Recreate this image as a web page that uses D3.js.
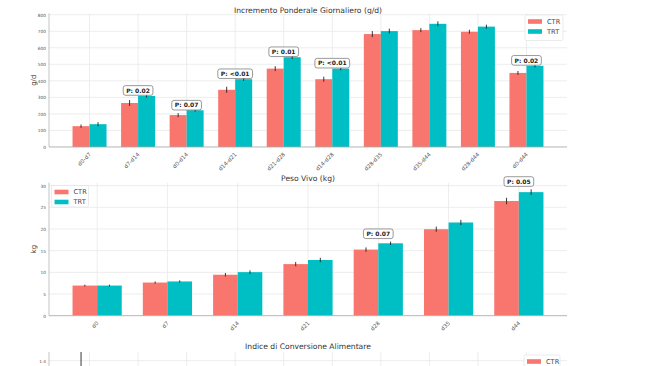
<!DOCTYPE html>
<html>
<head>
<meta charset="utf-8">
<script src="https://cdn.jsdelivr.net/npm/d3@7"></script>
<style>
  html, body { margin: 0; padding: 0; background: #fff; }
  svg { display: block; font-family: "DejaVu Sans", sans-serif; }
</style>
</head>
<body>
<svg id="chart" width="650" height="366"></svg>
<script>
// ---------- DATA ----------
const gainCategories = ["d0-d7","d7-d14","d0-d14","d14-d21","d21-d28","d14-d28","d28-d35","d35-d44","d28-d44","d0-d44"];
const gainCTR    = [126, 266, 193, 346, 474, 410, 683, 707, 697, 448];
const gainTRT    = [138, 309, 222, 410, 543, 474, 701, 745, 728, 491];
const gainCTRerr = [10, 18, 12, 18, 15, 15, 18, 12, 12, 12];
const gainTRTerr = [12, 10, 8, 10, 10, 10, 15, 15, 12, 10];
const gainP      = [null, "P: 0.02", "P: 0.07", "P: <0.01", "P: 0.01", "P: <0.01", null, null, null, "P: 0.02"];
const gainTicks  = [0, 100, 200, 300, 400, 500, 600, 700, 800];

const weightCategories = ["d0","d7","d14","d21","d28","d35","d44"];
const weightCTR    = [6.95, 7.65, 9.45, 11.9, 15.25, 19.95, 26.45];
const weightTRT    = [6.95, 7.9, 10.05, 12.85, 16.7, 21.5, 28.5];
const weightCTRerr = [0.2, 0.25, 0.4, 0.5, 0.5, 0.6, 0.75];
const weightTRTerr = [0.2, 0.25, 0.4, 0.5, 0.4, 0.6, 0.65];
const weightP      = [null, null, null, null, "P: 0.07", null, "P: 0.05"];
const weightTicks  = [0, 5, 10, 15, 20, 25, 30];

const fcrCategories = gainCategories;
const fcrCTR    = [1.10, 1.20, 1.15, 1.25, 1.28, 1.26, 1.22, 1.24, 1.23, 1.20];
const fcrTRT    = [1.08, 1.15, 1.12, 1.22, 1.25, 1.24, 1.20, 1.22, 1.21, 1.18];
const fcrCTRerr = [0.40, 0.03, 0.03, 0.03, 0.03, 0.03, 0.03, 0.03, 0.03, 0.03];
const fcrTRTerr = [0.03, 0.03, 0.03, 0.03, 0.03, 0.03, 0.03, 0.03, 0.03, 0.03];
const fcrTicks  = [0, 0.2, 0.4, 0.6, 0.8, 1.0, 1.2, 1.4];

const seriesNames = ["CTR", "TRT"];
const colors = {CTR: "#F8766D", TRT: "#00BFC4"};

// ---------- DRAW ----------
const VIEW_H = 366;
const svg = d3.select("#chart");
const FONT = "DejaVu Sans, sans-serif";

function drawChart(cfg) {
  const n = cfg.cats.length;
  const w = 0.35;
  const lo = -w, hi = n - 1 + w, m = 0.05 * (hi - lo);
  const x = d3.scaleLinear().domain([lo - m, hi + m]).range([cfg.left, cfg.right]);
  const y = d3.scaleLinear().domain([0, cfg.ymax]).range([cfg.bottom, cfg.top]);
  const g = svg.append("g");
  const clipId = "clip" + cfg.id;
  svg.append("clipPath").attr("id", clipId).append("rect")
    .attr("x", cfg.left).attr("y", cfg.top)
    .attr("width", cfg.right - cfg.left).attr("height", cfg.bottom - cfg.top);

  // title
  g.append("text").attr("x", (cfg.left + cfg.right) / 2).attr("y", cfg.titleY)
    .attr("text-anchor", "middle").attr("font-size", 7.6).attr("fill", "#333")
    .text(cfg.title);

  const grid = g.append("g").attr("clip-path", `url(#${clipId})`);
  grid.selectAll("line.hg").data(cfg.ticks).join("line")
    .attr("x1", cfg.left).attr("x2", cfg.right)
    .attr("y1", d => y(d)).attr("y2", d => y(d))
    .attr("stroke", "#e8e8e8").attr("stroke-width", 0.8);
  grid.selectAll("line.vg").data(d3.range(n)).join("line")
    .attr("x1", d => x(d)).attr("x2", d => x(d))
    .attr("y1", cfg.top).attr("y2", cfg.bottom)
    .attr("stroke", "#e8e8e8").attr("stroke-width", 0.8);

  // y tick labels (only those inside the visible page)
  const visTicks = cfg.ticks.filter(t => y(t) < VIEW_H - 3);
  const yAxis = d3.axisLeft(y).tickValues(visTicks).tickSize(0).tickPadding(3)
    .tickFormat(cfg.tickFormat || (d => d));
  const ya = g.append("g").attr("transform", `translate(${cfg.left},0)`).call(yAxis);
  ya.select(".domain").remove();
  ya.selectAll("text").attr("font-size", 4.3).attr("fill", "#555").attr("font-family", FONT);

  // x tick labels
  if (cfg.bottom < VIEW_H - 10) {
    const xAxis = d3.axisBottom(x).tickValues(d3.range(n)).tickSize(0)
      .tickFormat(i => cfg.cats[i]);
    const xa = g.append("g").attr("transform", `translate(0,${cfg.bottom})`).call(xAxis);
    xa.select(".domain").remove();
    xa.selectAll("text").attr("font-size", 5.5).attr("fill", "#555").attr("font-family", FONT)
      .attr("text-anchor", "end").attr("dy", "0.35em").attr("y", 0)
      .attr("transform", "translate(0,6.5) rotate(-45)");
  }

  // bars
  const bars = g.append("g").attr("clip-path", `url(#${clipId})`);
  const series = [
    {name: "CTR", vals: cfg.ctr, errs: cfg.ctrErr, off: -w},
    {name: "TRT", vals: cfg.trt, errs: cfg.trtErr, off: 0}
  ];
  series.forEach(s => {
    bars.selectAll(null).data(s.vals).join("rect")
      .attr("x", (d, i) => x(i + s.off))
      .attr("width", (d, i) => x(i + s.off + w) - x(i + s.off))
      .attr("y", d => y(d)).attr("height", d => y(0) - y(d))
      .attr("fill", colors[s.name]);
  });
  series.forEach(s => {
    bars.selectAll(null).data(s.vals).join("line")
      .attr("x1", (d, i) => x(i + s.off + w / 2)).attr("x2", (d, i) => x(i + s.off + w / 2))
      .attr("y1", (d, i) => y(d - s.errs[i])).attr("y2", (d, i) => y(d + s.errs[i]))
      .attr("stroke", "#222").attr("stroke-width", 0.9);
  });

  // spines
  g.append("line").attr("x1", cfg.left).attr("x2", cfg.left)
    .attr("y1", cfg.top).attr("y2", cfg.bottom).attr("stroke", "#b5b5b5").attr("stroke-width", 0.8);
  g.append("line").attr("x1", cfg.left).attr("x2", cfg.right)
    .attr("y1", cfg.bottom).attr("y2", cfg.bottom).attr("stroke", "#a8a8a8").attr("stroke-width", 0.8);

  // p-value boxes
  (cfg.p || []).forEach((p, i) => {
    if (!p) return;
    const top = Math.max(cfg.ctr[i] + cfg.ctrErr[i], cfg.trt[i] + cfg.trtErr[i]);
    const by = y(top) - cfg.pGap;
    const pg = g.append("g");
    const t = pg.append("text").attr("x", x(i)).attr("y", by - 2.6)
      .attr("text-anchor", "middle").attr("font-size", 6).attr("fill", "#222")
      .attr("font-weight", "bold").text(p);
    const bb = t.node().getBBox();
    pg.insert("rect", "text")
      .attr("x", bb.x - 3).attr("y", by - 9.6)
      .attr("width", bb.width + 6).attr("height", 9.6)
      .attr("rx", 2.2).attr("fill", "#fff").attr("stroke", "#555").attr("stroke-width", 0.6);
  });

  // legend
  const L = cfg.legend;
  const lg = g.append("g");
  lg.append("rect").attr("x", L.x).attr("y", L.y).attr("width", L.w).attr("height", L.h)
    .attr("rx", 1.5).attr("fill", "#fff").attr("fill-opacity", 0.85)
    .attr("stroke", "#e2e2e2").attr("stroke-width", 0.7);
  seriesNames.forEach((nm, k) => {
    const yy = L.y + 6.5 + k * 10;
    if (yy > VIEW_H - 3) return;
    lg.append("rect").attr("x", L.x + 3).attr("y", yy - 2.3).attr("width", 14).attr("height", 4.6)
      .attr("fill", colors[nm]);
    lg.append("text").attr("x", L.x + 22).attr("y", yy).attr("dy", "0.35em")
      .attr("font-size", 6.6).attr("fill", "#444").text(nm);
  });

  // y label
  if (cfg.ylabel) {
    g.append("text").attr("transform", `translate(${cfg.ylabelX},${(cfg.top + cfg.bottom) / 2}) rotate(-90)`)
      .attr("text-anchor", "middle").attr("dy", "0.35em").attr("font-size", 7).attr("fill", "#333")
      .text(cfg.ylabel);
  }
}

drawChart({
  id: 1, cats: gainCategories, ctr: gainCTR, trt: gainTRT, ctrErr: gainCTRerr, trtErr: gainTRTerr,
  p: gainP, ticks: gainTicks, ymax: 808,
  left: 49, right: 567, top: 13.4, bottom: 147, titleY: 12.5,
  title: "Incremento Ponderale Giornaliero (g/d)", ylabel: "g/d", ylabelX: 34, pGap: -1,
  legend: {x: 525, y: 15, w: 38, h: 25.5}
});

drawChart({
  id: 2, cats: weightCategories, ctr: weightCTR, trt: weightTRT, ctrErr: weightCTRerr, trtErr: weightTRTerr,
  p: weightP, ticks: weightTicks, ymax: 30.7,
  left: 49, right: 567, top: 182.6, bottom: 315.7, titleY: 180.8,
  title: "Peso Vivo (kg)", ylabel: "kg", ylabelX: 34, pGap: 3,
  legend: {x: 51.5, y: 185.5, w: 37, h: 21.5}
});

drawChart({
  id: 3, cats: fcrCategories, ctr: fcrCTR, trt: fcrTRT, ctrErr: fcrCTRerr, trtErr: fcrTRTerr,
  p: [], ticks: fcrTicks, ymax: 1.5, tickFormat: d3.format(".1f"),
  left: 49, right: 567, top: 352, bottom: 482, titleY: 348.5,
  title: "Indice di Conversione Alimentare", ylabel: "", ylabelX: 34, pGap: 0,
  legend: {x: 524, y: 355, w: 36, h: 25}
});
</script>
</body>
</html>
